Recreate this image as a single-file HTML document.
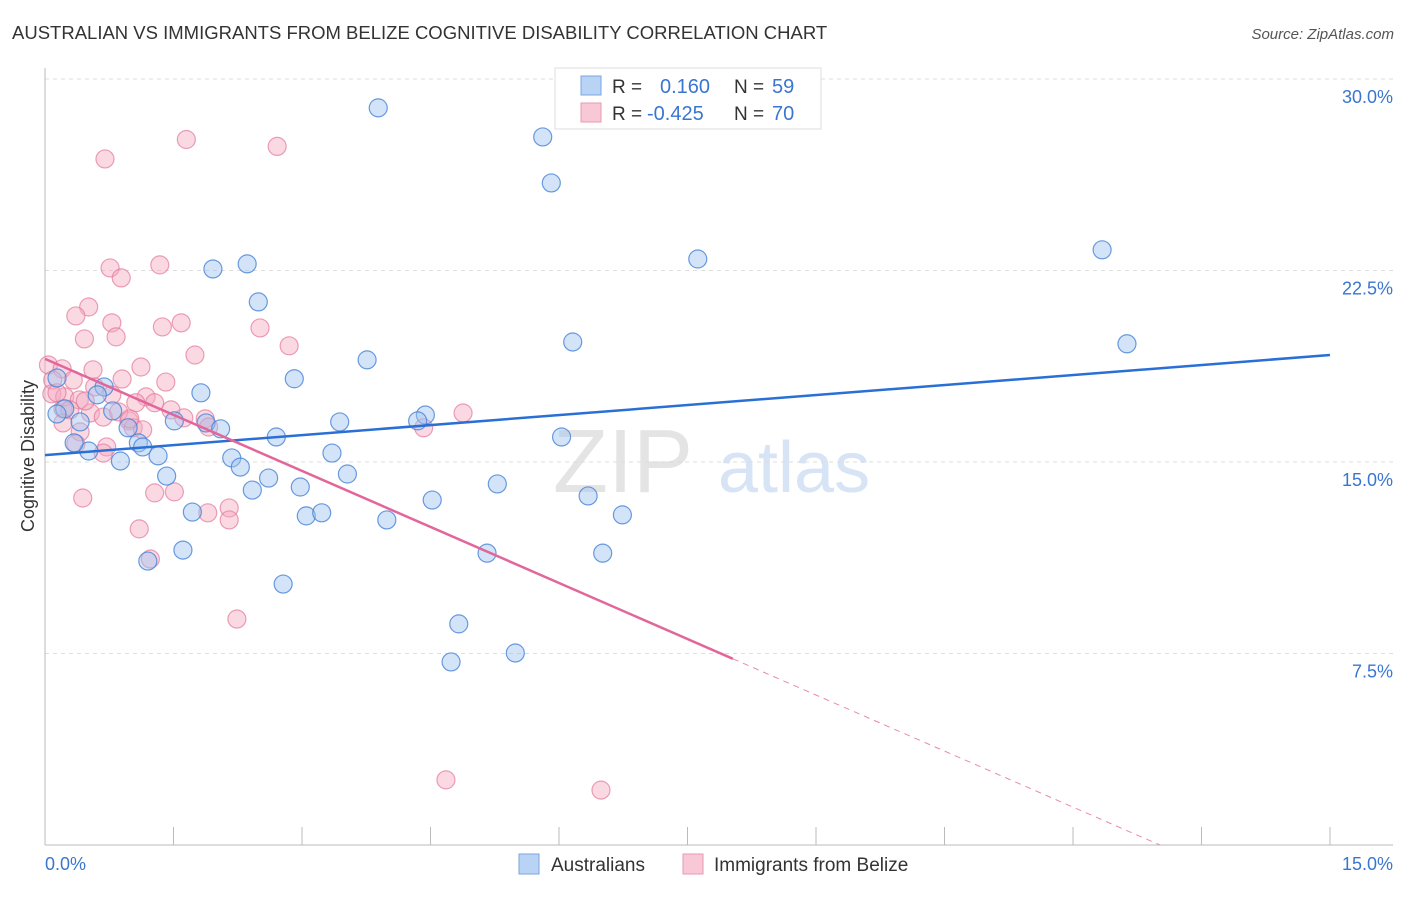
<!DOCTYPE html>
<html><head><meta charset="utf-8"><style>
body{margin:0;background:#fff;font-family:"Liberation Sans",sans-serif;}
svg text{font-family:"Liberation Sans",sans-serif;}
</style></head><body>
<svg id="c" width="1406" height="892">
<text x="12" y="39" font-size="18.5" fill="#333">AUSTRALIAN VS IMMIGRANTS FROM BELIZE COGNITIVE DISABILITY CORRELATION CHART</text>
<text x="1394" y="39" font-size="15" fill="#555" font-style="italic" text-anchor="end">Source: ZipAtlas.com</text>
<text x="34" y="456" font-size="18" fill="#333" text-anchor="middle" transform="rotate(-90 34 456)">Cognitive Disability</text>
<g><text x="553" y="492" font-size="90" fill="#e4e4e4" font-family="Liberation Serif">ZIP</text><text x="718" y="492" font-size="72" fill="#d6e4f5">atlas</text></g>
<g id="grid"></g><g id="pts"></g><g id="lines"></g>
<g>
<rect x="555" y="68" width="266" height="61" fill="#fff" stroke="#ddd"/>
<rect x="581" y="76" width="20" height="19" fill="#b9d3f5" stroke="#7aa6e0"/>
<rect x="581" y="103" width="20" height="19" fill="#f9c8d6" stroke="#e99ab2"/>
<text x="612" y="93" font-size="19" fill="#333">R =</text><text x="660" y="93" font-size="20" fill="#3a76d0">0.160</text>
<text x="734" y="93" font-size="19" fill="#333">N =</text><text x="772" y="93" font-size="20" fill="#3a76d0">59</text>
<text x="612" y="120" font-size="19" fill="#333">R =</text><text x="647" y="120" font-size="20" fill="#3a76d0">-0.425</text>
<text x="734" y="120" font-size="19" fill="#333">N =</text><text x="772" y="120" font-size="20" fill="#3a76d0">70</text>
</g>
<g>
<rect x="519" y="854" width="20" height="20" fill="#b9d3f5" stroke="#7aa6e0"/>
<text x="551" y="871" font-size="19" fill="#333">Australians</text>
<rect x="683" y="854" width="20" height="20" fill="#f9c8d6" stroke="#e99ab2"/>
<text x="714" y="871" font-size="19" fill="#333">Immigrants from Belize</text>
</g>
</svg>
<script>
const xTicks=[0,1.5,3,4.5,6,7.5,9,10.5,12,13.5,15];
const yTicks=[7.5,15,22.5,30];
const yTickLabels=["7.5%","15.0%","22.5%","30.0%"];
const blueX=[3.89,5.81,5.91,7.62,12.34,12.63,1.96,2.36,2.49,6.16,3.76,2.91,1.82,0.69,0.14,0.61,0.79,0.23,0.14,0.41,0.51,0.34,0.97,1.09,1.14,1.32,0.88,1.51,1.88,2.05,2.70,3.44,4.44,4.35,6.03,3.35,2.18,2.28,1.42,2.61,3.53,2.42,2.98,3.05,3.23,1.72,3.99,4.52,5.28,6.34,6.74,1.61,1.20,5.16,6.51,2.78,4.83,4.74,5.49];
const blueY=[28.87,27.73,25.93,22.95,23.31,19.63,22.56,22.76,21.27,19.70,19.00,18.26,17.71,17.94,18.29,17.63,17.00,17.08,16.88,16.57,15.43,15.75,16.34,15.75,15.59,15.24,15.04,16.61,16.53,16.30,15.98,16.57,16.84,16.61,15.98,15.35,15.16,14.80,14.45,14.37,14.53,13.90,14.02,12.89,13.01,13.04,12.73,13.51,14.14,13.67,12.93,11.55,11.12,11.43,11.43,10.22,8.66,7.17,7.52];
const pinkX=[1.65,2.71,0.70,0.76,0.89,1.34,0.51,0.36,0.78,0.83,0.46,1.37,1.59,2.51,2.85,1.75,0.04,0.20,0.56,1.12,0.09,0.33,0.90,1.41,0.58,0.78,1.18,0.08,0.23,1.06,0.40,0.21,0.29,1.28,0.53,0.68,0.86,1.47,1.62,1.87,0.98,1.03,0.41,1.14,1.91,4.42,4.88,0.36,0.72,0.68,0.44,1.28,1.51,1.10,1.90,2.15,2.15,1.23,2.24,4.68,6.49,0.14,0.21,0.47,0.99];
const pinkY=[27.63,27.36,26.87,22.60,22.21,22.72,21.07,20.72,20.45,19.90,19.82,20.29,20.45,20.25,19.55,19.19,18.80,18.65,18.61,18.72,18.21,18.21,18.25,18.13,17.94,17.63,17.55,17.67,17.55,17.32,17.43,17.08,17.04,17.32,16.92,16.76,16.96,17.04,16.73,16.69,16.61,16.34,16.18,16.26,16.37,16.34,16.92,15.71,15.59,15.35,13.59,13.79,13.83,12.38,13.01,13.20,12.73,11.20,8.85,2.55,2.15,17.71,16.53,17.39,16.69];
const blueTrend=[15.27,19.19];
const pinkTrend=[19.04,-1.463];
const pinkSolidEnd=8.03;
const X=v=>45+v*(1285/15), Y=v=>845-v*(766/30);
const NS="http://www.w3.org/2000/svg";
function mk(p,t,a){const e=document.createElementNS(NS,t);for(const k in a)e.setAttribute(k,a[k]);p.appendChild(e);return e;}
const g=document.getElementById('grid');
yTicks.forEach((v,i)=>{
 const l=mk(g,'line',{x1:45,x2:1393,y1:Y(v),y2:Y(v),stroke:'#ddd','stroke-dasharray':'4,4'});
 
 
 const t=mk(g,'text',{x:1393,y:Y(v)+24,'font-size':18,fill:'#3a76d0','text-anchor':'end'});t.textContent=yTickLabels[i];
 
 
});
mk(g,'line',{x1:45,x2:1393,y1:845,y2:845,stroke:'#bbb'});
mk(g,'line',{x1:45,x2:45,y1:68,y2:845,stroke:'#bbb'});
xTicks.forEach(v=>{const l=mk(g,'line',{x1:X(v),x2:X(v),y1:827,y2:845,stroke:'#bbb'});
 
 });
let t0=mk(g,'text',{x:45,y:870,'font-size':18,fill:'#3a76d0'});t0.textContent='0.0%';


let t1=mk(g,'text',{x:1393,y:870,'font-size':18,fill:'#3a76d0','text-anchor':'end'});t1.textContent='15.0%';


const P=document.getElementById('pts');
pinkX.forEach((x,i)=>{const c=mk(P,'circle',{cx:X(x),cy:Y(pinkY[i]),r:9,fill:'rgba(244,170,192,0.45)',stroke:'rgba(228,120,155,0.7)','stroke-width':1.2});
 
 });
blueX.forEach((x,i)=>{const c=mk(P,'circle',{cx:X(x),cy:Y(blueY[i]),r:9,fill:'rgba(160,196,240,0.45)',stroke:'rgba(70,130,215,0.8)','stroke-width':1.2});
 
 });
const L=document.getElementById('lines');
const bl=mk(L,'line',{x1:X(0),y1:Y(blueTrend[0]),x2:X(15),y2:Y(blueTrend[1]),stroke:'#2a6fd6','stroke-width':2.5});


const pf=v=>pinkTrend[0]+pinkTrend[1]*v;
const pl=mk(L,'line',{x1:X(0),y1:Y(pf(0)),x2:X(pinkSolidEnd),y2:Y(pf(pinkSolidEnd)),stroke:'#e3669a','stroke-width':2.5});


const xz=-pinkTrend[0]/pinkTrend[1];
const pd=mk(L,'line',{x1:X(pinkSolidEnd),y1:Y(pf(pinkSolidEnd)),x2:X(xz),y2:Y(0),stroke:'#e88aaa','stroke-width':1,'stroke-dasharray':'6,5'});


</script>
</body></html>
